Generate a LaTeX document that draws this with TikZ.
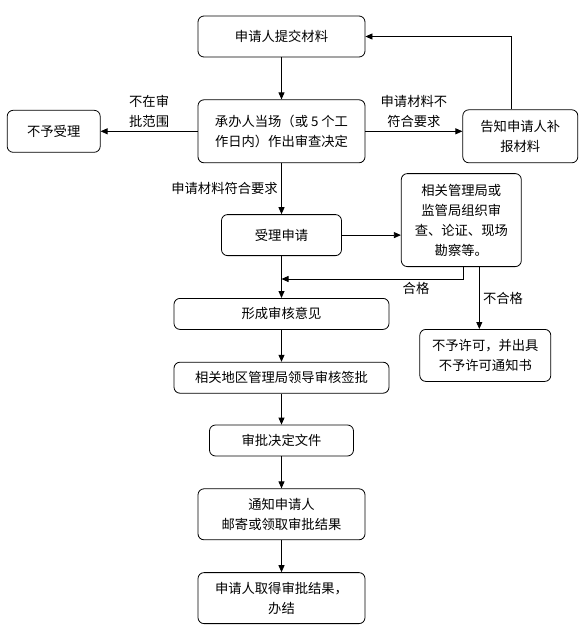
\documentclass[tikz,border=0pt]{standalone}
\usepackage{fontspec}
\setmainfont{Noto Sans CJK SC}
\usetikzlibrary{arrows.meta, positioning}
\tikzstyle{flowbox} = [rectangle, rounded corners=6pt, draw=black, line width=0.8pt,
                       text centered, align=center, inner sep=2pt]
\tikzstyle{arrow}   = [-{Triangle[length=7pt, width=6pt]}, line width=0.8pt]

\begin{document}
\begin{tikzpicture}[x=1pt, y=-1pt, font=\fontsize{13.3pt}{20pt}\selectfont]
  \useasboundingbox (0,0) rectangle (584,626);

  \node (submit)  [flowbox, minimum width=167pt, minimum height=41pt] at (281.5,36.5) {申请人提交材料};
  \node (decide)  [flowbox, minimum width=167pt, minimum height=63pt, below=42pt of submit]
                  {承办人当场（或 5 个工\\作日内）作出审查决定};
  \node (reject)  [flowbox, minimum width=93pt, minimum height=42pt, left=97pt of decide] {不予受理};
  \node (supply)  [flowbox, minimum width=115pt, minimum height=53pt, right=97pt of decide, yshift=-5pt]
                  {告知申请人补\\报材料};
  \node (accept)  [flowbox, minimum width=120pt, minimum height=41pt, below=51pt of decide] {受理申请};
  \node (review)  [flowbox, minimum width=120pt, minimum height=93pt, right=59pt of accept, yshift=15pt]
                  {相关管理局或\\监管局组织审\\查、论证、现场\\勘察等。};
  \node (opinion) [flowbox, minimum width=215pt, minimum height=31pt, below=42pt of accept] {形成审核意见};
  \node (deny)    [flowbox, minimum width=131pt, minimum height=52pt, below=62pt of review, xshift=24pt]
                  {不予许可，并出具\\不予许可通知书};
  \node (sign)    [flowbox, minimum width=215pt, minimum height=31pt, below=32pt of opinion]
                  {相关地区管理局领导审核签批};
  \node (doc)     [flowbox, minimum width=144pt, minimum height=31pt, below=31pt of sign] {审批决定文件};
  \node (notify)  [flowbox, minimum width=167pt, minimum height=51pt, below=32pt of doc]
                  {通知申请人\\邮寄或领取审批结果};
  \node (finish)  [flowbox, minimum width=167pt, minimum height=51pt, below=32pt of notify]
                  {申请人取得审批结果，\\办结};
  \coordinate [below=23pt of accept] (merge);

  \draw [arrow] (submit) -- (decide);
  \draw [arrow] (decide) -- node[above, align=left] {不在审\\批范围} (reject);
  \draw [arrow] (decide.east) -- node[above, align=center] {申请材料不\\符合要求} (decide.east -| supply.west);
  \draw [arrow] ([xshift=-9pt]supply.north) |- (submit.east);
  \draw [arrow] (decide) -- node[left] {申请材料符合要求} (accept);
  \draw [arrow] (accept.east) -- (accept.east -| review.west);
  \draw [arrow] (accept) -- (opinion);
  \draw [arrow] ([xshift=2pt]review.south) |- node[below, pos=0.63] {合格} (merge);
  \draw [arrow] ([xshift=18pt]review.south) -- node[right] {不合格} ([xshift=18pt]review.south |- deny.north);
  \draw [arrow] (opinion) -- (sign);
  \draw [arrow] (sign)    -- (doc);
  \draw [arrow] (doc)     -- (notify);
  \draw [arrow] (notify)  -- (finish);
\end{tikzpicture}
\end{document}
